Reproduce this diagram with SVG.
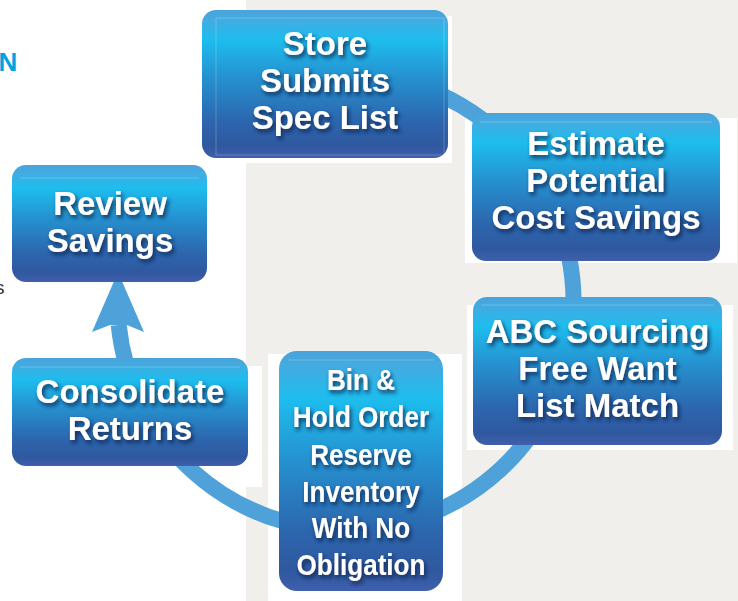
<svg xmlns="http://www.w3.org/2000/svg" width="738" height="601" viewBox="0 0 738 601">
<defs>
<linearGradient id="bg" x1="0" y1="0" x2="0" y2="1">
<stop offset="0" stop-color="#4ba3da"/>
<stop offset="0.07" stop-color="#41ace2"/>
<stop offset="0.2" stop-color="#1dbdee"/>
<stop offset="0.45" stop-color="#2592d0"/>
<stop offset="0.75" stop-color="#2c66ae"/>
<stop offset="0.92" stop-color="#2f589f"/>
<stop offset="1" stop-color="#405fad"/>
</linearGradient>
<filter id="ts" x="-10%" y="-20%" width="130%" height="160%">
<feDropShadow dx="2" dy="3" stdDeviation="2.2" flood-color="#0d1f4a" flood-opacity="0.85"/>
</filter>
</defs>
<style>
.box{fill:url(#bg);}
.hl{stroke:#ffffff;stroke-opacity:0.22;stroke-width:1;fill:none;}
.t{font-family:"Liberation Sans",Arial,sans-serif;font-weight:bold;font-size:33px;fill:#ffffff;text-anchor:middle;filter:url(#ts);}
.tc{font-family:"Liberation Sans",Arial,sans-serif;font-weight:bold;font-size:30px;fill:#ffffff;text-anchor:middle;filter:url(#ts);}
.con{fill:none;stroke:#4ea2d9;stroke-width:16;}
.wb{fill:#ffffff;}
</style>
<rect x="0" y="0" width="738" height="601" fill="#ffffff"/>
<rect x="246" y="0" width="492" height="601" fill="#f1efeb"/>
<g id="backdrops">
<rect class="wb" x="246" y="16" width="206" height="147"/>
<rect class="wb" x="465" y="118" width="272" height="145"/>
<rect class="wb" x="467" y="305" width="266" height="145"/>
<rect class="wb" x="268" y="354" width="194" height="247"/>
<rect class="wb" x="246" y="366" width="16" height="121"/>
</g>
<text x="-1.5" y="71" font-family="Liberation Sans,Arial,sans-serif" font-weight="bold" font-size="26" fill="#00a3e0">N</text>
<text x="-5" y="294" font-family="Liberation Sans,Arial,sans-serif" font-size="19" fill="#333333">s</text>
<g id="connectors">
<path class="con" d="M385.1,77.5 A228,228 0 1 1 118.7,325"/>
<polygon fill="#4ea2d9" points="118,272 144,332 127,325 110,325 92,332"/>
</g>
<g id="store">
<rect class="box" x="202" y="10" width="246" height="148" rx="14"/>
<rect class="hl" x="216" y="18" width="228" height="137"/>
<text class="t" x="325" y="55">Store</text>
<text class="t" x="325" y="92">Submits</text>
<text class="t" x="325" y="129">Spec List</text>
</g>
<g id="estimate">
<rect class="box" x="472" y="113" width="248" height="148" rx="14"/>
<line class="hl" x1="480" y1="122" x2="712" y2="122"/>
<text class="t" x="596" y="155">Estimate</text>
<text class="t" x="596" y="192">Potential</text>
<text class="t" x="596" y="229">Cost Savings</text>
</g>
<g id="abc">
<rect class="box" x="473" y="297" width="249" height="148" rx="14"/>
<line class="hl" x1="481" y1="305" x2="714" y2="305"/>
<text class="t" x="597.5" y="343">ABC Sourcing</text>
<text class="t" x="597.5" y="380">Free Want</text>
<text class="t" x="597.5" y="417">List Match</text>
</g>
<g id="bin">
<rect class="box" x="279" y="351" width="164" height="240" rx="18"/>
<line class="hl" x1="288" y1="360" x2="434" y2="360"/>
<g transform="translate(361 0) scale(0.87 1)">
<text class="tc" x="0" y="390">Bin &amp;</text>
<text class="tc" x="0" y="427">Hold Order</text>
<text class="tc" x="0" y="465">Reserve</text>
<text class="tc" x="0" y="502">Inventory</text>
<text class="tc" x="0" y="538">With No</text>
<text class="tc" x="0" y="575">Obligation</text>
</g>
</g>
<g id="consolidate">
<rect class="box" x="12" y="358" width="236" height="108" rx="14"/>
<line class="hl" x1="20" y1="367" x2="240" y2="367"/>
<text class="t" x="130" y="403">Consolidate</text>
<text class="t" x="130" y="440">Returns</text>
</g>
<g id="review">
<rect class="box" x="12" y="165" width="195" height="117" rx="14"/>
<line class="hl" x1="20" y1="178" x2="199" y2="178"/>
<text class="t" x="110" y="215">Review</text>
<text class="t" x="110" y="252">Savings</text>
</g>
</svg>
